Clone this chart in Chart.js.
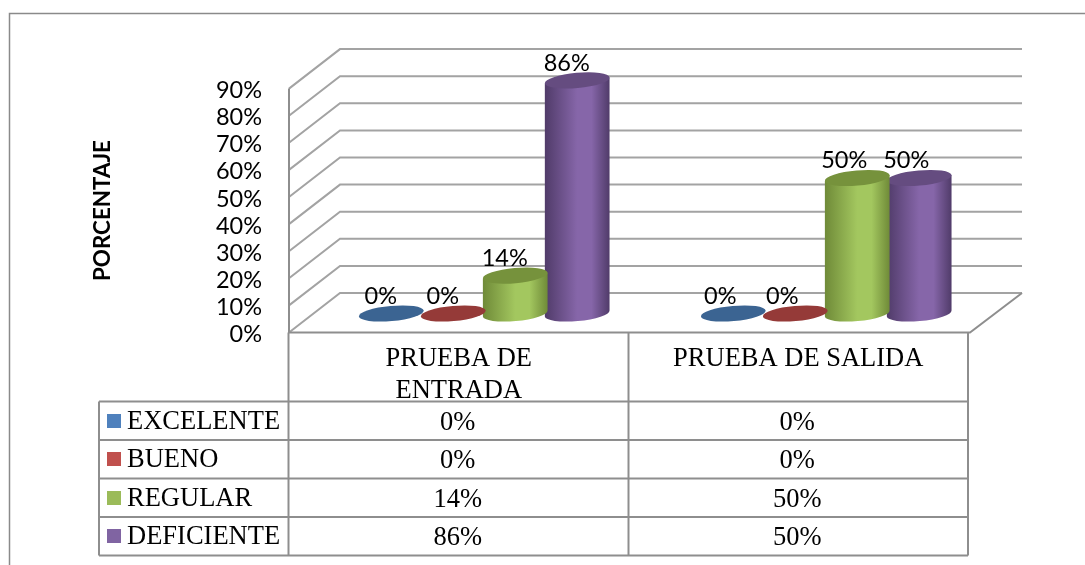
<!DOCTYPE html>
<html>
<head>
<meta charset="utf-8">
<style>html,body{margin:0;padding:0;background:#fff}#w{width:1085px;height:565px;position:relative}</style>
<script src="https://cdn.jsdelivr.net/npm/chart.js@4/dist/chart.umd.min.js"></script>
</head>
<body>
<div id="w"><canvas id="c" width="1085" height="565"></canvas></div>
<script>
const categories = [["PRUEBA DE", "ENTRADA"], ["PRUEBA DE SALIDA"]];
const seriesNames = ["EXCELENTE", "BUENO", "REGULAR", "DEFICIENTE"];
const excelente = [0, 0];
const bueno = [0, 0];
const regular = [14, 50];
const deficiente = [86, 50];
const seriesColors = ["#4F81BD", "#C0504D", "#9BBB59", "#8064A2"];
const topColors = ["#3b6492", "#953a38", "#76923c", "#654c80"];
const edgeColors = ["#37608c", "#8a3432", "#6f8a38", "#503b69"];
const midColors = ["#4F81BD", "#C0504D", "#a3c75f", "#8666a9"];

const GRID = "#8e8e8e";
const DEPTH_X = 51, DEPTH_Y = 39.5, BAR_DY = 19;
const BAR_DX = [25.5, 28];
const LABEL_DX = 15;
const SANS = "Lato, 'Noto Sans', sans-serif";
const SERIF = "'Liberation Serif', serif";
const pct = v => v + "%";

function line(ctx, pts, w, col) {
  ctx.save();
  ctx.strokeStyle = col; ctx.lineWidth = w; ctx.lineJoin = "miter";
  ctx.beginPath();
  pts.forEach((p, i) => i ? ctx.lineTo(p[0], p[1]) : ctx.moveTo(p[0], p[1]));
  ctx.stroke();
  ctx.restore();
}

const frame3d = {
  id: "frame3d",
  beforeDatasetsDraw(chart) {
    const { ctx, chartArea: a, scales: { y } } = chart;
    const backR = a.right + DEPTH_X + 3;
    line(ctx, [[9.5, 565], [9.5, 13.5], [1085, 13.5]], 1.5, "#8a8a8a");
    y.ticks.forEach(t => {
      const py = y.getPixelForValue(t.value);
      line(ctx, [[a.left, py], [a.left + DEPTH_X, py - DEPTH_Y], [backR, py - DEPTH_Y]], 2, "#a3a3a3");
    });
    const y0 = y.getPixelForValue(0), yMax = y.getPixelForValue(y.max);
    line(ctx, [[a.left, yMax], [a.left, y0], [a.right + 2, y0], [backR, y0 - DEPTH_Y]], 2, GRID);
  },
  beforeDatasetDraw(chart, args) {
    const { ctx } = chart;
    const i = args.index;
    args.meta.data.forEach((bar, j) => {
      const cx = bar.x + BAR_DX[j];
      const rx = bar.width / 2 + 1.5, ry = 7.6, rot = -0.09;
      const yTop = bar.y - BAR_DY, yBot = bar.base - BAR_DY;
      const ex = rx * Math.cos(rot), ey = rx * Math.sin(rot);
      if (yBot - yTop > 0.5) {
        const g = ctx.createLinearGradient(cx - rx, 0, cx + rx, 0);
        g.addColorStop(0, edgeColors[i]);
        g.addColorStop(0.5, midColors[i]);
        g.addColorStop(0.72, midColors[i]);
        g.addColorStop(1, edgeColors[i]);
        ctx.save();
        ctx.fillStyle = g;
        ctx.beginPath();
        ctx.ellipse(cx, yBot, rx, ry, rot, Math.PI, 0, true);
        ctx.lineTo(cx + ex, yTop + ey);
        ctx.lineTo(cx - ex, yTop - ey);
        ctx.closePath();
        ctx.fill();
        ctx.restore();
      }
      ctx.save();
      ctx.fillStyle = topColors[i];
      ctx.beginPath();
      ctx.ellipse(cx, yTop, rx, ry, rot, 0, Math.PI * 2);
      ctx.fill();
      ctx.restore();
    });
    return false;
  },
  afterDatasetsDraw(chart) {
    const { ctx } = chart;
    ctx.save();
    ctx.font = "23.5px " + SANS;
    ctx.fillStyle = "#000";
    ctx.textAlign = "center";
    ctx.textBaseline = "middle";
    chart.data.datasets.forEach((ds, i) => {
      chart.getDatasetMeta(i).data.forEach((bar, j) => {
        ctx.fillText(pct(ds.data[j]), bar.x + LABEL_DX, bar.y - BAR_DY - 17.5);
      });
    });
    ctx.restore();
  },
  afterDraw(chart) {
    const { ctx, scales: { x } } = chart;
    const X0 = 99, X1 = x.left - 0.5, X2 = (x.getPixelForValue(0) + x.getPixelForValue(1)) / 2, X3 = x.right;
    const rows = [401.5, 440, 478.5, 517, 555.5];
    const TOP = x.top;
    rows.forEach(r => line(ctx, [[X0, r], [X3, r]], 2, GRID));
    line(ctx, [[X0, rows[0]], [X0, rows[4]]], 2, GRID);
    [X1, X2, X3].forEach(v => line(ctx, [[v, TOP], [v, rows[4]]], 2, GRID));

    ctx.save();
    ctx.fillStyle = "#000";
    ctx.font = "26.5px " + SERIF;
    ctx.textBaseline = "alphabetic";
    ctx.textAlign = "center";
    categories.forEach((lines, c) => {
      const cx = x.getPixelForValue(c);
      lines.forEach((t, k) => ctx.fillText(t, cx, 366 + k * 31.5));
    });
    seriesNames.forEach((name, s) => {
      const base = rows[s] + 27;
      const mid = (rows[s] + rows[s + 1]) / 2;
      ctx.textAlign = "left";
      ctx.fillStyle = seriesColors[s];
      ctx.fillRect(107, Math.round(mid - 7), 14, 14);
      ctx.fillStyle = "#000";
      ctx.fillText(name, 127, base);
      ctx.textAlign = "center";
      chart.data.datasets[s].data.forEach((v, c) => {
        ctx.fillText(pct(v), x.getPixelForValue(c) - 1, base + 1);
      });
    });
    ctx.restore();
  }
};

new Chart(document.getElementById("c"), {
  type: "bar",
  data: {
    labels: categories.map(c => c.join(" ")),
    datasets: [
      { label: seriesNames[0], data: excelente, backgroundColor: seriesColors[0] },
      { label: seriesNames[1], data: bueno, backgroundColor: seriesColors[1] },
      { label: seriesNames[2], data: regular, backgroundColor: seriesColors[2] },
      { label: seriesNames[3], data: deficiente, backgroundColor: seriesColors[3] }
    ]
  },
  plugins: [frame3d],
  options: {
    responsive: false,
    animation: false,
    layout: { padding: { left: 0, top: 88.6, right: 117, bottom: 232.5 } },
    datasets: { bar: { categoryPercentage: 0.73, barPercentage: 1 } },
    plugins: { legend: { display: false }, title: { display: false }, tooltip: { enabled: false } },
    scales: {
      x: { display: true, grid: { display: false }, border: { display: false }, ticks: { display: false }, afterFit(s) { s.height = 0; } },
      y: {
        min: 0, max: 90,
        afterFit(s) { s.width = 289; },
        grid: { display: false, drawTicks: false },
        border: { display: false },
        title: {
          display: true, text: "PORCENTAJE", color: "#000",
          font: { family: SANS, size: 22.4, weight: "bold" },
          padding: { top: 89.5, bottom: 0 }
        },
        ticks: {
          stepSize: 10, autoSkip: false, padding: 27, labelOffset: 2, color: "#000",
          font: { family: SANS, size: 23.5 },
          callback: v => v + "%"
        }
      }
    }
  }
});
</script>
</body>
</html>
